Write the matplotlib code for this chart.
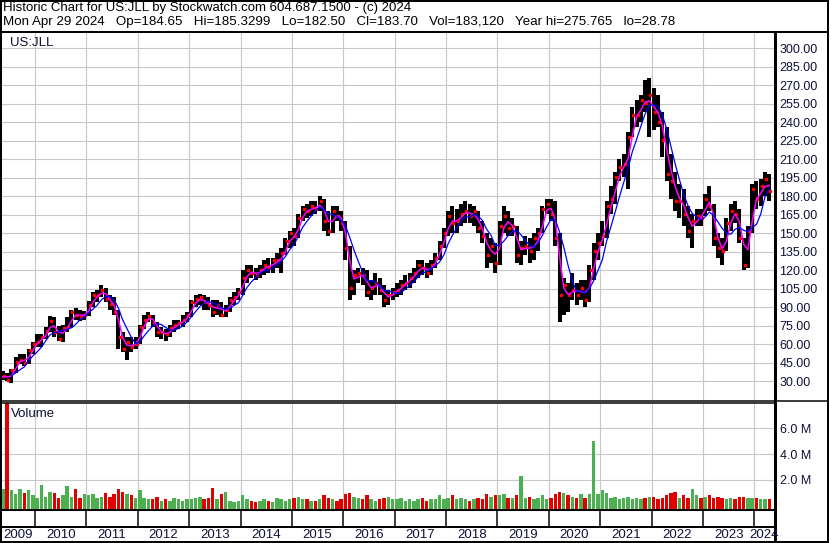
import numpy as np
import pandas as pd
import matplotlib
matplotlib.use("Agg")
import matplotlib.pyplot as plt
from matplotlib.lines import Line2D

plt.rcParams['font.family'] = ['Liberation Sans', 'DejaVu Sans']

# monthly bars, Apr 2009 .. Apr 2024
start_year, start_month = 2009, 4

highs = [36, 38, 37, 40, 50, 52, 52, 56, 62,
         68, 68, 74, 83, 82, 75, 76, 82, 88, 89, 88, 87,
         95, 102, 104, 108, 106, 100, 98, 88, 70, 66, 66, 66,
         76, 84, 86, 84, 78, 74, 72, 76, 80, 80, 84, 86,
         96, 100, 101, 100, 98, 96, 96, 94, 92, 98, 102, 106,
         120, 124, 124, 122, 124, 128, 130, 130, 134, 138, 146, 152,
         154, 166, 172, 174, 176, 176, 180, 178, 168, 172, 172, 168,
         160, 140, 120, 122, 122, 120, 112, 118, 114, 108, 104, 106,
         110, 112, 116, 118, 122, 128, 128, 126, 128, 134, 144, 154,
         168, 172, 170, 174, 176, 174, 172, 168, 160, 150, 146, 142,
         160, 172, 168, 162, 156, 144, 148, 146, 150, 154, 172, 178,
         178, 176, 150, 114, 110, 118, 110, 112, 112, 124, 142, 150,
         160, 176, 188, 200, 210, 214, 232, 252, 258, 262, 274, 276,
         268, 262, 248, 236, 214, 200, 190, 186, 172, 166, 170, 170,
         182, 188, 174, 150, 146, 162, 174, 176, 170, 146, 156, 190,
         192, 194, 200, 198]
lows = [28.8, 31, 30, 28.8, 37, 44, 42, 44, 52,
        58, 58, 64, 70, 66, 63, 62, 70, 73, 80, 79, 80,
        83, 90, 94, 98, 94, 88, 84, 56, 54, 47, 54, 56,
        60, 72, 78, 74, 66, 64, 63, 66, 70, 72, 74, 78,
        82, 90, 92, 88, 88, 82, 84, 82, 82, 86, 92, 96,
        100, 110, 114, 112, 114, 116, 118, 118, 122, 118, 132, 138,
        140, 146, 160, 162, 164, 166, 168, 152, 148, 150, 160, 152,
        128, 96, 100, 110, 108, 98, 96, 100, 100, 90, 92, 96,
        98, 100, 104, 106, 110, 114, 116, 114, 116, 122, 128, 138,
        148, 150, 150, 156, 158, 158, 156, 150, 142, 122, 126, 118,
        124, 150, 148, 148, 126, 124, 132, 126, 128, 136, 150, 166,
        160, 140, 78, 84, 86, 96, 92, 96, 90, 94, 112, 128,
        140, 146, 166, 174, 192, 196, 186, 228, 236, 240, 248, 228,
        234, 236, 212, 192, 178, 168, 162, 156, 146, 138, 156, 156,
        164, 168, 140, 130, 124, 136, 152, 158, 142, 120, 122, 150,
        170, 172, 180, 176]
closes = [34, 34, 31, 39, 46, 47, 45, 55, 60,
          62, 66, 71, 79, 70, 64, 73, 74, 86, 84, 82, 84,
          92, 100, 100, 104, 97, 93, 86, 66, 56, 62, 58, 60,
          74, 80, 83, 77, 70, 70, 68, 73, 76, 77, 80, 84,
          94, 97, 98, 94, 92, 86, 92, 84, 88, 96, 98, 102,
          114, 120, 118, 116, 120, 124, 122, 128, 128, 134, 144, 150,
          148, 162, 170, 168, 172, 170, 176, 160, 152, 168, 164, 158,
          138, 106, 116, 118, 116, 102, 106, 110, 104, 96, 100, 102,
          104, 108, 110, 114, 118, 124, 122, 118, 124, 130, 140, 150,
          164, 158, 160, 166, 168, 164, 168, 154, 148, 132, 140, 126,
          156, 164, 154, 156, 132, 138, 140, 136, 146, 150, 170, 174,
          166, 146, 100, 108, 100, 104, 100, 106, 96, 120, 136, 142,
          148, 172, 178, 196, 204, 206, 228, 246, 246, 258, 256, 262,
          248, 240, 226, 198, 192, 176, 176, 166, 152, 160, 164, 162,
          178, 172, 146, 138, 136, 158, 168, 166, 146, 124, 152, 186,
          178, 188, 194, 184]
# volume in millions
volumes = [1.6, 1.3, 8.6, 1.2, 0.9, 1.3, 1.0, 1.2, 0.8,
           0.6, 1.6, 0.7, 1.1, 1.0, 0.6, 0.8, 1.5, 0.7, 1.3, 0.6, 0.9,
           0.8, 0.9, 0.6, 0.7, 1.0, 0.7, 0.9, 1.3, 1.1, 0.9, 0.8, 0.6,
           1.2, 0.6, 0.5, 0.5, 0.7, 0.4, 0.5, 0.4, 0.6, 0.5, 0.4, 0.5,
           0.5, 0.6, 0.7, 0.5, 0.6, 1.4, 0.5, 0.9, 1.1, 0.4, 0.3, 0.4,
           0.8, 0.5, 0.4, 0.3, 0.4, 0.5, 0.4, 0.3, 0.6, 0.5, 0.4, 0.5,
           0.6, 0.7, 0.5, 0.5, 0.4, 0.4, 0.5, 0.8, 0.6, 0.5, 0.4, 0.5,
           0.9, 1.0, 0.7, 0.6, 0.5, 0.8, 0.5, 0.4, 0.5, 0.6, 0.7, 0.5,
           0.5, 0.6, 0.4, 0.5, 0.4, 0.5, 0.6, 0.4, 0.5, 0.5, 0.8, 0.5,
           0.6, 0.8, 0.5, 0.6, 0.5, 0.4, 0.5, 0.6, 0.5, 0.9, 0.7, 0.8,
           0.8, 0.9, 0.6, 0.6, 0.8, 2.3, 0.6, 0.7, 0.5, 0.6, 0.8, 0.5,
           0.6, 0.9, 1.1, 1.0, 0.8, 0.7, 0.6, 0.9, 0.6, 0.9, 5.0, 0.9,
           1.2, 1.0, 0.6, 0.7, 0.5, 0.6, 0.7, 0.5, 0.6, 0.5, 0.6, 0.7,
           0.7, 0.5, 0.6, 0.8, 1.0, 1.1, 0.6, 0.8, 0.6, 1.3, 0.8, 0.6,
           0.7, 0.8, 0.6, 0.7, 0.6, 0.5, 0.6, 0.5, 0.7, 0.7, 0.6, 0.6,
           0.6, 0.5, 0.5, 0.5]

title1 = "Historic Chart for US:JLL by Stockwatch.com 604.687.1500 - (c) 2024"
title2 = ("Mon Apr 29 2024   Op=184.65   Hi=185.3299   Lo=182.50   Cl=183.70   "
          "Vol=183,120   Year hi=275.765   lo=28.78")
symbol = "US:JLL"
price_ticks = list(range(30, 301, 15))
vol_ticks = [2, 4, 6]
years = list(range(2009, 2025))

W, H = 830, 543
# pixel -> figure fraction
def fx(px):
    return px / W
def fy(py):
    return 1 - py / H
# pixel column -> fractional year
def year_at(px):
    return 2009 + (px + 16.38) / 51.38

t = start_year + (start_month - 1 + np.arange(len(closes)) + 0.5) / 12.0
hi = np.array(highs, float)
lo = np.array(lows, float)
cl = np.array(closes, float)
vol = np.array(volumes, float)
typical = pd.Series((hi + lo + cl) / 3)
ma_fast = typical.rolling(2, min_periods=1).mean()
ma_slow = pd.Series(cl).rolling(5, min_periods=4).mean()

fig = plt.figure(figsize=(W / 100, H / 100), dpi=100)
ax = fig.add_axes([fx(2), fy(400), fx(774) - fx(2), fy(31) - fy(400)])
axv = fig.add_axes([fx(2), fy(509), fx(774) - fx(2), fy(403) - fy(509)])

grid_col = "#c8c8c8"
lab_col = "#10103a"
xl = (year_at(2), year_at(774))

# price panel
ax.vlines(t, lo, hi, color="black", lw=2.9)
ax.plot(t + 0.02, cl, ls="none", marker="s", ms=1.5, color="red")
ax.plot(t, ma_fast, color="#ff00ff", lw=1.1)
ax.plot(t, ma_slow, color="#0000ff", lw=0.9)
ax.set_xlim(*xl)
ax.set_ylim(14.8, 314)
ax.set_yticks(price_ticks)
ax.set_yticklabels(["%.2f" % v for v in price_ticks])
ax.set_xticks(years[1:])
ax.set_xticklabels([])
ax.yaxis.tick_right()
ax.tick_params(axis="y", length=0, pad=4, labelsize=9, labelcolor=lab_col)
ax.tick_params(axis="x", length=0)
ax.grid(True, color=grid_col, lw=0.8)
ax.set_axisbelow(True)
for s in ax.spines.values():
    s.set_visible(False)
ax.text(0.011, 0.968, symbol, transform=ax.transAxes, fontsize=9.5,
        color=lab_col, va="center", ha="left")

# volume panel
vcols = ["#e00000" if i > 0 and cl[i] < cl[i - 1] else "#4caf50"
         for i in range(len(cl))]
vbase = -0.25
axv.bar(t, vol - vbase, bottom=vbase, width=0.8 / 12, color=vcols, lw=0)
axv.set_xlim(*xl)
axv.set_ylim(vbase, 7.96)
axv.set_yticks(vol_ticks)
axv.set_yticklabels(["%.1f M" % v for v in vol_ticks])
axv.set_xticks(years[1:])
axv.set_xticklabels([])
axv.yaxis.tick_right()
axv.tick_params(axis="y", length=0, pad=4, labelsize=9, labelcolor=lab_col)
axv.tick_params(axis="x", length=0)
axv.grid(True, color=grid_col, lw=0.8)
axv.set_axisbelow(True)
for s in axv.spines.values():
    s.set_visible(False)
axv.text(0.011, 0.9, "Volume", transform=axv.transAxes, fontsize=9.5,
         color=lab_col, va="center", ha="left")

# header
fig.text(fx(3), fy(7.5), title1, fontsize=9.5, va="center", ha="left")
fig.text(fx(3), fy(22.5), title2, fontsize=9.6, va="center", ha="left")

# frame lines in pixel coordinates
def pline(x0, y0, x1, y1, w):
    fig.add_artist(Line2D([fx(x0), fx(x1)], [fy(y0), fy(y1)],
                          transform=fig.transFigure, color="black",
                          lw=w * 0.72, solid_capstyle="butt"))

pline(0, 0.8, 829, 0.8, 2)
pline(0.8, 0, 0.8, 543, 2)
pline(827.5, 0, 827.5, 543, 2)
pline(0, 541.8, 829, 541.8, 2)
pline(0, 31.5, 829, 31.5, 2)
pline(774.5, 31, 774.5, 543, 3)
pline(0, 400.5, 829, 400.5, 1.5)
pline(0, 403, 774, 403, 1.5)
pline(0, 509.5, 774, 509.5, 2)
pline(0, 527, 774, 527, 2)

# year separators and labels
to_px = lambda yr: (yr - 2009) * 51.38 - 16.38
for yr in years:
    left = max(to_px(yr), 2)
    right = min(to_px(yr + 1), 774)
    if yr > 2009:
        pline(left, 509, left, 527, 1.5)
    fig.text(fx((left + right) / 2), fy(535), str(yr), fontsize=9.5,
             va="center", ha="center", color=lab_col)

fig.savefig("out.png", dpi=100)
